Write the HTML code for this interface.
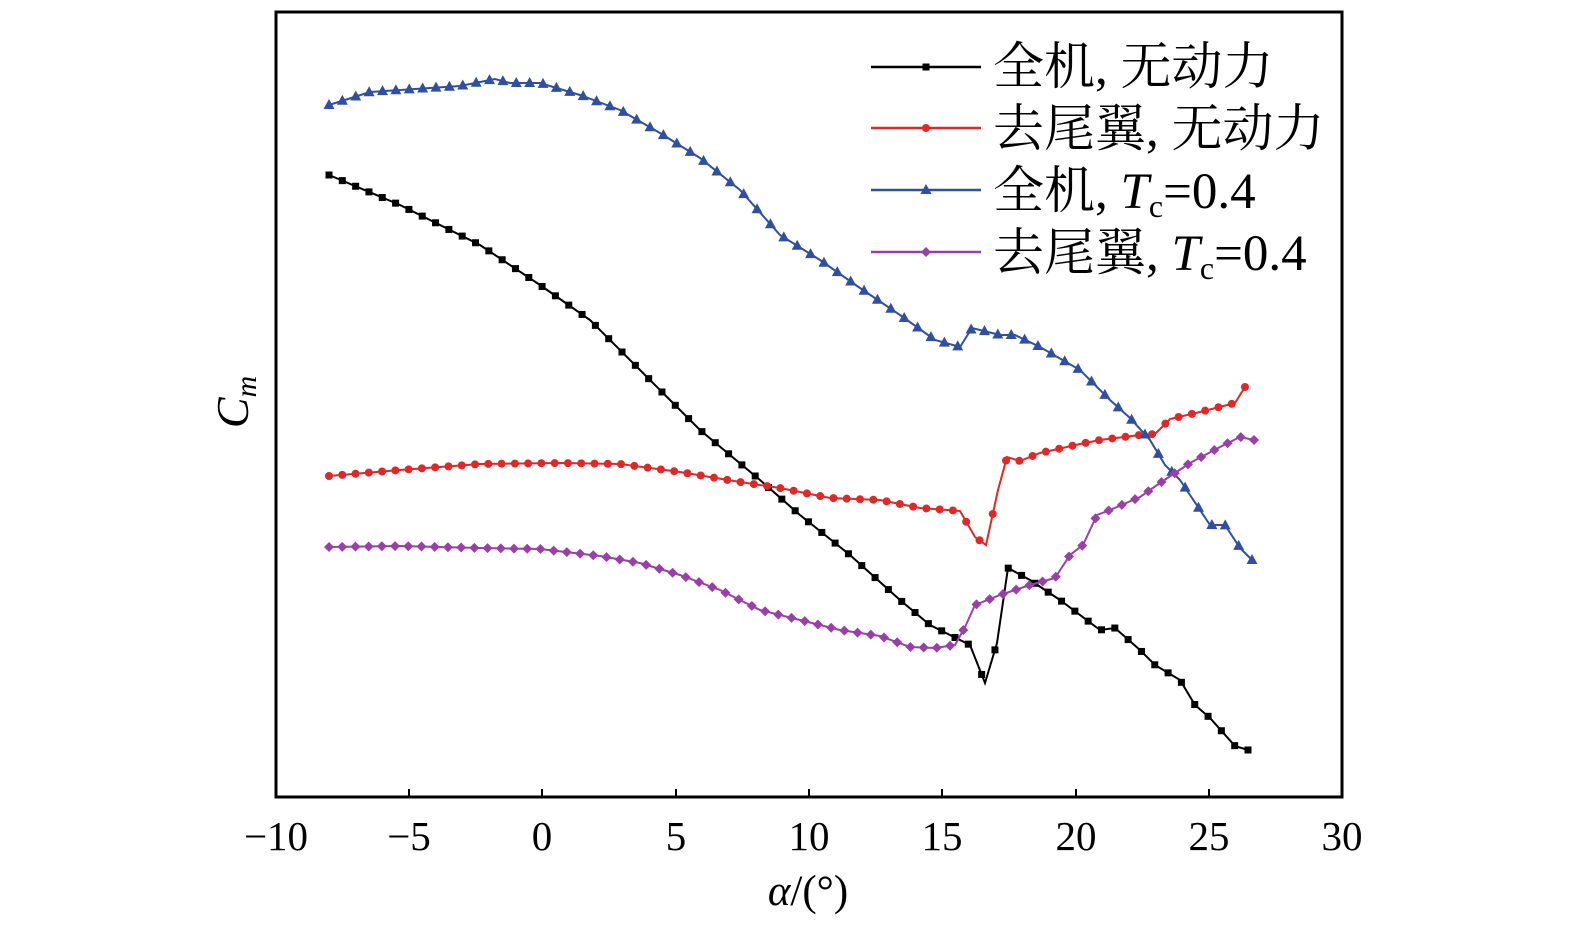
<!DOCTYPE html>
<html><head><meta charset="utf-8"><style>html,body{margin:0;padding:0;overflow:hidden;background:#fff;width:1575px;height:933px}svg{display:block}</style></head>
<body>
<svg id="s" width="1575" height="933" xmlns="http://www.w3.org/2000/svg" font-family="Liberation Serif, Noto Serif CJK SC, serif">
<rect x="276" y="12" width="1066" height="785" fill="none" stroke="#000" stroke-width="3"/>
<g stroke="#000" stroke-width="2">
<line x1="276" y1="797" x2="276" y2="789"/><line x1="409" y1="797" x2="409" y2="789"/><line x1="542" y1="797" x2="542" y2="789"/><line x1="676" y1="797" x2="676" y2="789"/><line x1="809" y1="797" x2="809" y2="789"/><line x1="942" y1="797" x2="942" y2="789"/><line x1="1076" y1="797" x2="1076" y2="789"/><line x1="1209" y1="797" x2="1209" y2="789"/>
</g>
<g font-size="41" text-anchor="middle" fill="#000">
<text x="276" y="850">−10</text><text x="409" y="850">−5</text><text x="542" y="850">0</text><text x="676" y="850">5</text><text x="809" y="850">10</text><text x="942" y="850">15</text><text x="1076" y="850">20</text><text x="1209" y="850">25</text><text x="1342" y="850">30</text>
</g>
<text x="808" y="905" font-size="43" text-anchor="middle"><tspan font-style="italic">α</tspan>/(°)</text>
<text transform="translate(248,402) rotate(-90)" font-size="46" text-anchor="middle" font-style="italic">C<tspan font-size="30" dy="8">m</tspan></text>
<g id="series"></g>
<g id="leg" font-size="51" fill="#000">
<text x="993" y="84">全机, 无动力</text>
<text x="993" y="146">去尾翼, 无动力</text>
<text x="993" y="208">全机, <tspan font-style="italic">T</tspan><tspan font-size="32" dy="9">c</tspan><tspan dy="-9">=0.4</tspan></text>
<text x="993" y="270">去尾翼, <tspan font-style="italic">T</tspan><tspan font-size="32" dy="9">c</tspan><tspan dy="-9">=0.4</tspan></text>
</g>
</svg>
<script>
var NS="http://www.w3.org/2000/svg";
var S=[
{c:"#000",m:"sq",ly:67,p:[[329,175],[400,205],[480,245],[540,285],[590,320],[640,370],[700,430],[760,480],[800,515],[850,555],[900,600],[930,625],[970,645],[985,683],[997,643],[1008,568],[1030,580],[1060,600],[1100,630],[1115,628],[1140,650],[1155,665],[1180,680],[1195,705],[1210,718],[1235,746],[1248,750]]},
{c:"#e02828",m:"ci",ly:128,p:[[329,476],[400,470],[480,464],[560,463],[620,464],[680,472],[740,482],[780,488],[830,498],[880,500],[920,508],[960,511],[975,537],[986,545],[998,490],[1007,457],[1020,461],[1040,453],[1080,444],[1100,440],[1140,435],[1155,434],[1170,419],[1200,412],[1235,403],[1245,387]]},
{c:"#2f4fa0",m:"tr",ly:190,p:[[329,105],[370,92],[400,90],[460,86],[495,79],[510,83],[540,83],[580,95],[620,110],[660,133],[700,158],[740,190],[780,235],[820,260],[860,288],[900,315],[935,340],[960,347],[972,328],[1000,335],[1015,335],[1040,347],[1080,370],[1110,400],[1130,418],[1150,440],[1165,465],[1180,480],[1210,525],[1225,525],[1240,548],[1252,560]]},
{c:"#9b3fa8",m:"di",ly:252,p:[[329,547],[400,546],[480,548],[540,549],[600,556],[640,563],[680,575],[720,590],[760,610],[800,620],[840,630],[880,636],[910,647],[935,648],[955,645],[965,627],[975,605],[1000,595],[1030,585],[1055,578],[1070,555],[1083,545],[1097,515],[1110,510],[1140,497],[1160,483],[1190,463],[1220,447],[1240,437],[1254,440]]}];
var g=document.getElementById("series");
function el(n,a){var e=document.createElementNS(NS,n);for(var k in a)e.setAttribute(k,a[k]);g.appendChild(e);return e;}
function mk(t,x,y,c){
 if(t=="sq")el("rect",{x:x-3.5,y:y-3.5,width:7,height:7,fill:c});
 else if(t=="ci")el("circle",{cx:x,cy:y,r:4,fill:c});
 else if(t=="tr")el("polygon",{points:(x)+","+(y-6)+" "+(x-5.5)+","+(y+4)+" "+(x+5.5)+","+(y+4),fill:c});
 else el("polygon",{points:x+","+(y-5)+" "+(x+5)+","+y+" "+x+","+(y+5)+" "+(x-5)+","+y,fill:c});
}
function yAt(p,x){for(var i=0;i<p.length-1;i++){if(x>=p[i][0]&&x<=p[i+1][0]){var t=(x-p[i][0])/(p[i+1][0]-p[i][0]);return p[i][1]+t*(p[i+1][1]-p[i][1]);}}return p[p.length-1][1];}
S.forEach(function(s){
 var x0=s.p[0][0],x1=s.p[s.p.length-1][0];
 var n=Math.round((x1-x0)/13.3);
 var all=s.p.map(function(q){return q[0]+","+q[1];}).join(" ");
 el("polyline",{points:all,fill:"none",stroke:s.c,"stroke-width":2});
 for(var i=0;i<=n;i++){var x=x0+(x1-x0)*i/n;mk(s.m,x,yAt(s.p,x),s.c);}
 el("line",{x1:871,y1:s.ly,x2:981,y2:s.ly,stroke:s.c,"stroke-width":2.5});
 mk(s.m,926,s.ly,s.c);
});
</script>
</body></html>
